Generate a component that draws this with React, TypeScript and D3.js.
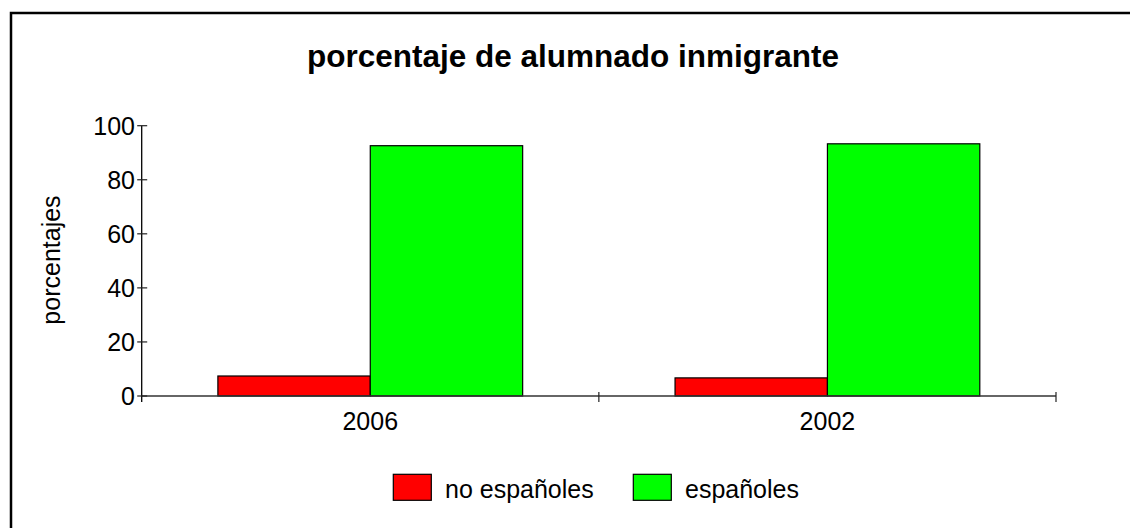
import React from "react";
import * as d3 from "d3";

const categories = ["2006", "2002"];
const seriesNames = ["no españoles", "españoles"];
const noEspanoles = [7.4, 6.7];
const espanoles = [92.6, 93.3];
const seriesColors = ["#ff0000", "#00ff00"];
const yTicks = [0, 20, 40, 60, 80, 100];
const title = "porcentaje de alumnado inmigrante";
const yLabel = "porcentajes";

const W = 1130;
const H = 528;
const FONT = "'Liberation Sans', Arial, sans-serif";

export default function App() {
  const x0 = d3.scaleBand<string>().domain(categories).range([141.7, 1056]).paddingInner(0).paddingOuter(0);
  const x1 = d3.scaleBand<string>().domain(seriesNames).range([0, x0.bandwidth()]).paddingInner(0).paddingOuter(0.5);
  const y = d3.scaleLinear().domain([0, 100]).range([396, 125.7]);
  const values = [noEspanoles, espanoles];

  const axisX = x0.range()[0];
  const xEnd = x0.range()[1];
  const xTickPositions = [...categories.map((c) => (x0(c) as number)), xEnd];

  const legendX = [393.3, 633.3];

  return (
    <svg
      width={W}
      height={H}
      style={{ position: "fixed", left: 0, top: 0, background: "#fff" }}
      fontFamily={FONT}
    >
      <rect x={0} y={0} width={W} height={H} fill="#fff" />
      <rect x={11} y={13} width={1200} height={600} fill="none" stroke="#000" strokeWidth={2.5} />

      <text x={573} y={67} textAnchor="middle" fontSize={31.5} fontWeight="bold" fill="#000">
        {title}
      </text>

      {/* bars */}
      {categories.map((c, ci) =>
        seriesNames.map((s, si) => {
          const v = values[si][ci];
          const bx = (x0(c) as number) + (x1(s) as number);
          return (
            <rect
              key={c + s}
              x={bx}
              y={y(v)}
              width={x1.bandwidth()}
              height={y(0) - y(v)}
              fill={seriesColors[si]}
              stroke="#000"
              strokeWidth={1.2}
            />
          );
        })
      )}

      {/* x axis */}
      <line x1={axisX} x2={xEnd} y1={y(0)} y2={y(0)} stroke="#333" strokeWidth={1.5} />
      {xTickPositions.slice(1).map((t, i) => (
        <line key={i} x1={t} x2={t} y1={y(0) - 4} y2={y(0) + 6} stroke="#222" strokeWidth={1.2} />
      ))}
      {categories.map((c) => (
        <text
          key={c}
          x={(x0(c) as number) + x0.bandwidth() / 2}
          y={430}
          textAnchor="middle"
          fontSize={25}
          fill="#000"
        >
          {c}
        </text>
      ))}

      {/* y axis */}
      <line x1={axisX} x2={axisX} y1={y(100)} y2={y(0) + 6} stroke="#000" strokeWidth={1.3} />
      {yTicks.map((t) => (
        <g key={t}>
          <line x1={axisX - 4.5} x2={axisX + 5.5} y1={y(t)} y2={y(t)} stroke="#222" strokeWidth={1.2} />
          <text x={135} y={y(t)} dy="0.36em" textAnchor="end" fontSize={25} fill="#000">
            {t}
          </text>
        </g>
      ))}
      <text
        transform={`translate(60,260) rotate(-90)`}
        textAnchor="middle"
        fontSize={25}
        fill="#000"
      >
        {yLabel}
      </text>

      {/* legend */}
      {seriesNames.map((s, i) => (
        <g key={s}>
          <rect x={legendX[i]} y={474.3} width={38} height={26} fill={seriesColors[i]} stroke="#000" strokeWidth={1.2} />
          <text x={legendX[i] + 51.7} y={498} fontSize={25} fill="#000">
            {s}
          </text>
        </g>
      ))}
    </svg>
  );
}
